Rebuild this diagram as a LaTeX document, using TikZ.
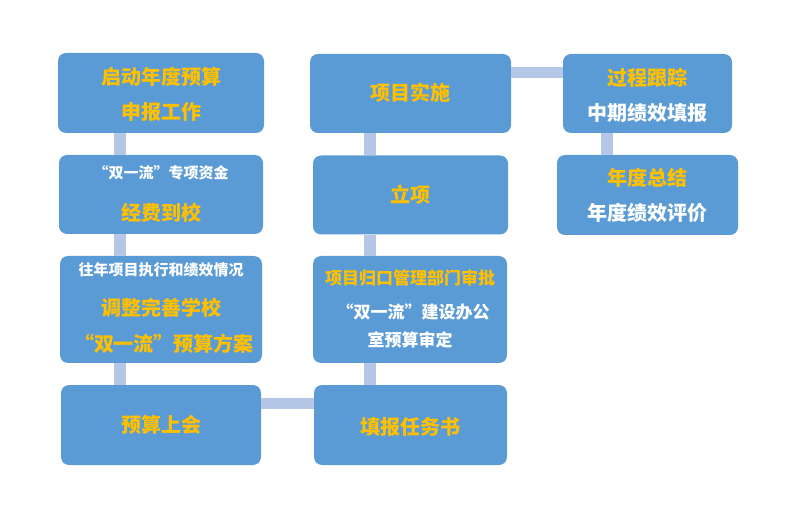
\documentclass[tikz,border=0pt]{standalone}
\usepackage{fontspec}
\newfontfamily\cjk{Noto Sans CJK SC}
\definecolor{boxblue}{HTML}{5B9BD5}
\definecolor{linkblue}{HTML}{B4C7E7}
\definecolor{txtyellow}{HTML}{FFC000}
\tikzset{
  stage/.style={draw=none, fill=boxblue, rounded corners=8pt, inner sep=0pt},
  link/.style={draw=linkblue, line width=12pt},
  big/.style={anchor=base, inner sep=0pt, font=\cjk\bfseries\fontsize{20}{24}\selectfont},
  mid/.style={anchor=base, inner sep=0pt, font=\cjk\bfseries\fontsize{17}{20}\selectfont},
  small/.style={anchor=base, inner sep=0pt, font=\cjk\bfseries\fontsize{15}{18}\selectfont},
  yel/.style={text=txtyellow},
  wht/.style={text=white}
}
\begin{document}
\begin{tikzpicture}[x=1pt,y=-1pt]
  \useasboundingbox (0,0) rectangle (788,505);
  % boxes
  \node[stage, minimum width=206pt, minimum height=80pt]  (s1)  at (161,93)    {};
  \node[stage, minimum width=204pt, minimum height=79pt]  (s2)  at (161,194.5) {};
  \node[stage, minimum width=202pt, minimum height=107pt] (s3)  at (161,309.5) {};
  \node[stage, minimum width=200pt, minimum height=80pt]  (s4)  at (161,425)   {};
  \node[stage, minimum width=201pt, minimum height=79pt]  (s5)  at (410.5,93.5) {};
  \node[stage, minimum width=195pt, minimum height=79pt]  (s6)  at (410.5,195) {};
  \node[stage, minimum width=194pt, minimum height=107pt] (s7)  at (410,309.5) {};
  \node[stage, minimum width=193pt, minimum height=80pt]  (s8)  at (410.5,425) {};
  \node[stage, minimum width=169pt, minimum height=79pt]  (s9)  at (647.5,93.5) {};
  \node[stage, minimum width=181pt, minimum height=80pt]  (s10) at (647.5,195) {};

  % connectors
  \coordinate (colA) at (120,0);
  \coordinate (colB) at (369.5,0);
  \coordinate (colC) at (606.5,0);
  \coordinate (rowA) at (0,72.5);
  \coordinate (rowB) at (0,403.5);
  \foreach \a/\b in {s1/s2,s2/s3,s3/s4} {
    \draw[link] (\a.south -| colA) -- (\b.north -| colA);
  }
  \foreach \a/\b in {s5/s6,s6/s7,s7/s8} {
    \draw[link] (\a.south -| colB) -- (\b.north -| colB);
  }
  \draw[link] (s9.south -| colC) -- (s10.north -| colC);
  \draw[link, line width=11pt] (s5.east |- rowA) -- (s9.west |- rowA);
  \draw[link, line width=11pt] (s4.east |- rowB) -- (s8.west |- rowB);

  % texts
  \node[big, yel] (s1a) at (161,84.6) {启动年度预算};
  \node[big, yel] (s1b) at (161,119.6) {申报工作};
  \node[small, wht] (s2a) at (161,178.7) {“双一流”专项资金};
  \node[big, yel] (s2b) at (161,220.6) {经费到校};
  \node[small, wht] (s3a) at (161,275.5) {往年项目执行和绩效情况};
  \node[big, yel] (s3b) at (161,315.6) {调整完善学校};
  \node[big, yel] (s3c) at (164,351.6) {“双一流”预算方案};
  \node[big, yel] (s4a) at (161,432.6) {预算上会};
  \node[big, yel] (s5a) at (410,100.6) {项目实施};
  \node[big, yel] (s6a) at (410,202.6) {立项};
  \node[mid, yel] (s7a) at (410,284.5) {项目归口管理部门审批};
  \node[mid, wht] (s7b) at (413,318.5) {“双一流”建设办公};
  \node[mid, wht] (s7c) at (410,346.5) {室预算审定};
  \node[big, yel] (s8a) at (410,434.6) {填报任务书};
  \node[big, yel] (s9a) at (647,85.6) {过程跟踪};
  \node[big, wht] (s9b) at (647,120.6) {中期绩效填报};
  \node[big, yel] (s10a) at (647,185.6) {年度总结};
  \node[big, wht] (s10b) at (647,220.6) {年度绩效评价};
\end{tikzpicture}
\end{document}
